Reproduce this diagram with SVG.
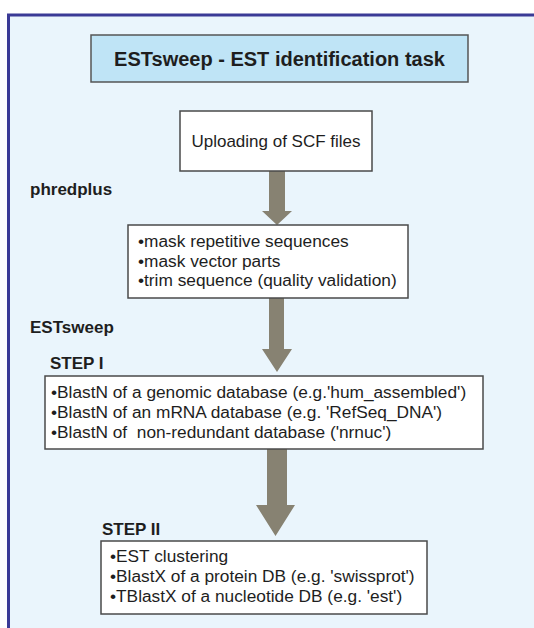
<svg xmlns="http://www.w3.org/2000/svg" width="534" height="628" viewBox="0 0 534 628">
<style>
.box{fill:#ffffff;stroke:#4a4a4a;stroke-width:1.5}
.t{font-family:"Liberation Sans",Arial,sans-serif;fill:#1e1e1e}
.b{font-weight:bold}
.arr{fill:#878272}
</style>
<rect width="534" height="628" fill="#ffffff"/>
<rect id="frame" x="8.5" y="15" width="600" height="700" fill="#eaf5fc" stroke="#3a3a96" stroke-width="3"/>
<g id="connectors">
<path class="arr" d="M269,171 H285 V211 H292 L277,225 L262,211 H269 Z"/>
<path class="arr" d="M269,298 H284 V349 H292 L277,372 L262,349 H269 Z"/>
<path class="arr" d="M267,449 H287 V505 H295 L275.5,536 L256,505 H267 Z"/>
</g>
<g id="title">
<rect x="91" y="35" width="377" height="47" fill="#bfe4f6" stroke="#555555" stroke-width="1.5"/>
<text class="t b" x="279.5" y="66" font-size="20" text-anchor="middle">ESTsweep - EST identification task</text>
</g>
<g id="upload">
<rect class="box" x="180" y="111" width="192" height="60"/>
<text class="t" x="276" y="147" font-size="17" text-anchor="middle">Uploading of SCF files</text>
</g>
<g id="label-phredplus"><text class="t b" x="30" y="195" font-size="17">phredplus</text></g>
<g id="mask">
<rect class="box" x="128" y="225" width="280" height="73"/>
<text class="t" font-size="17.3"><tspan x="138" y="247">•mask repetitive sequences</tspan><tspan x="138" y="266.5">•mask vector parts</tspan><tspan x="138" y="286">•trim sequence (quality validation)</tspan></text>
</g>
<g id="label-estsweep"><text class="t b" x="30" y="333" font-size="17">ESTsweep</text></g>
<g id="label-step1"><text class="t b" x="50" y="369" font-size="17">STEP I</text></g>
<g id="step1">
<rect class="box" x="45" y="376" width="438" height="73"/>
<text class="t" font-size="17.3"><tspan x="51" y="398">•BlastN of a genomic database (e.g.'hum_assembled')</tspan><tspan x="51" y="418">•BlastN of an mRNA database (e.g. 'RefSeq_DNA')</tspan><tspan x="51" y="438">•BlastN of &#160;non-redundant database ('nrnuc')</tspan></text>
</g>
<g id="label-step2"><text class="t b" x="102" y="535" font-size="17">STEP II</text></g>
<g id="step2">
<rect class="box" x="101" y="541" width="326" height="73"/>
<text class="t" font-size="17.3"><tspan x="110" y="562">•EST clustering</tspan><tspan x="110" y="582">•BlastX of a protein DB (e.g. 'swissprot')</tspan><tspan x="110" y="602">•TBlastX of a nucleotide DB (e.g. 'est')</tspan></text>
</g>
</svg>
